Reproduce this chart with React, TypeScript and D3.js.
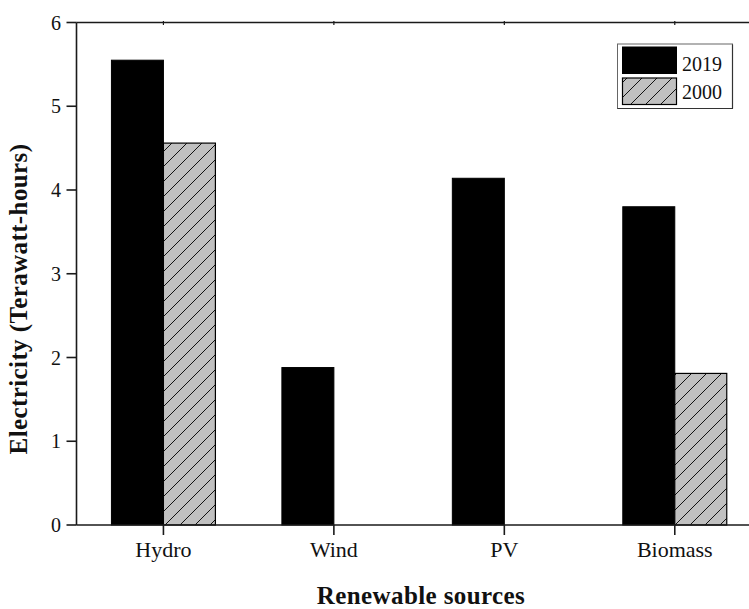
import React from "react";
import * as d3 from "d3";

const categories = ["Hydro", "Wind", "PV", "Biomass"];
const values2019 = [5.55, 1.88, 4.14, 3.8];
const values2000 = [4.56, 0, 0, 1.81];
const yTicks = [0, 1, 2, 3, 4, 5, 6];
const seriesNames = ["2019", "2000"];

const W = 749;
const H = 609;
const FONT = "'Liberation Serif', 'Times New Roman', serif";

export default function App() {
  const x = d3.scaleBand<string>().domain(categories).range([78.2, 760]).padding(0);
  const y = d3.scaleLinear().domain([0, 6]).range([525, 22.5]);
  const bw = x.step() * 0.305;
  const cx = (c: string) => (x(c) as number) + x.bandwidth() / 2;
  const left = 76.5;
  const axisColor = "#1a1a1a";

  return (
    <svg
      width={W}
      height={H}
      style={{ position: "absolute", left: 0, top: 0, background: "#fff" }}
      fontFamily={FONT}
    >
      <defs>
        <pattern id="hatch" patternUnits="userSpaceOnUse" width={15} height={15}>
          <rect width={15} height={15} fill="#c0c0c0" />
          <path d="M0,15 L15,0 M-3,3 L3,-3 M12,18 L18,12" stroke="#111" strokeWidth={1} />
        </pattern>
      </defs>

      {/* bars 2019 */}
      {categories.map((c, i) => (
        <rect
          key={"a" + c}
          x={cx(c) - bw}
          y={y(values2019[i])}
          width={bw}
          height={y(0) - y(values2019[i])}
          fill="#000"
          stroke="#000"
          strokeWidth={1}
        />
      ))}
      {/* bars 2000 */}
      {categories.map((c, i) => (
        <rect
          key={"b" + c}
          x={cx(c)}
          y={y(values2000[i])}
          width={bw}
          height={y(0) - y(values2000[i])}
          fill="url(#hatch)"
          stroke="#000"
          strokeWidth={1.2}
        />
      ))}

      {/* axes */}
      <line x1={left} x2={W} y1={y(0)} y2={y(0)} stroke={axisColor} strokeWidth={1.6} />
      <line x1={left} x2={W} y1={y(6)} y2={y(6)} stroke={axisColor} strokeWidth={1.6} />
      <line x1={left} x2={left} y1={y(6)} y2={y(0)} stroke={axisColor} strokeWidth={1.6} />

      {yTicks.map((t) => (
        <g key={"yt" + t}>
          <line x1={left - 10} x2={left} y1={y(t)} y2={y(t)} stroke={axisColor} strokeWidth={1.6} />
          <text x={61} y={y(t)} dy="0.35em" textAnchor="end" fontSize={20} fill="#111">
            {t}
          </text>
        </g>
      ))}

      {categories.map((c) => (
        <g key={"xt" + c}>
          <line x1={cx(c)} x2={cx(c)} y1={y(0)} y2={y(0) + 10} stroke={axisColor} strokeWidth={1.6} />
          <line x1={cx(c)} x2={cx(c)} y1={y(6) - 1.5} y2={y(6) + 2.5} stroke={axisColor} strokeWidth={1.2} />
          <text x={cx(c)} y={557} textAnchor="middle" fontSize={22} fill="#111">
            {c}
          </text>
        </g>
      ))}

      {/* axis titles */}
      <text
        x={421}
        y={604}
        textAnchor="middle"
        fontSize={25}
        fontWeight="bold"
        letterSpacing={0.4}
        fill="#111"
      >
        Renewable sources
      </text>
      <text
        transform={`translate(27,299) rotate(-90)`}
        textAnchor="middle"
        fontSize={25}
        fontWeight="bold"
        letterSpacing={0.4}
        fill="#111"
      >
        Electricity (Terawatt-hours)
      </text>

      {/* legend */}
      <g>
        <rect x={617.5} y={44} width={115} height={64.5} fill="#fff" stroke="#666" strokeWidth={1} />
        <line x1={732.5} x2={732.5} y1={44.5} y2={108.5} stroke="#333" strokeWidth={1.2} />
        <line x1={617.5} x2={733} y1={108.5} y2={108.5} stroke="#333" strokeWidth={1.2} />
        <rect x={622.5} y={47} width={54} height={26.5} fill="#000" stroke="#000" strokeWidth={1} />
        <rect x={622.5} y={78} width={54} height={26.5} fill="url(#hatch)" stroke="#000" strokeWidth={1.2} />
        <text x={682} y={71} fontSize={20} fill="#111">
          {seriesNames[0]}
        </text>
        <text x={682} y={98.5} fontSize={20} fill="#111">
          {seriesNames[1]}
        </text>
      </g>
    </svg>
  );
}
